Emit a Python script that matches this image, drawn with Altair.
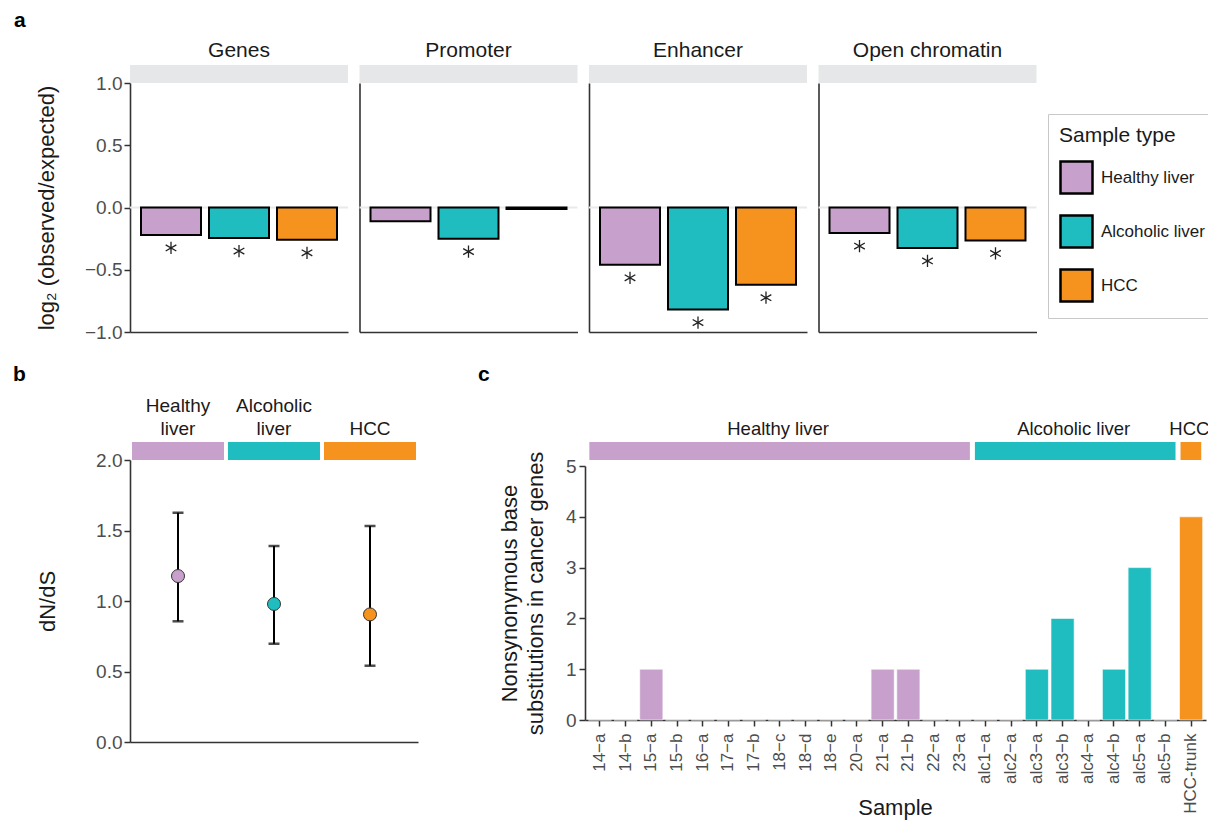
import altair as alt
import pandas as pd

FONT = "Liberation Sans"
AX = "#333333"
LAB = "#4d4d4d"
TXT = "#1a1a1a"

# ---------------- data ----------------
regions = ["Genes", "Promoter", "Enhancer", "Open chromatin"]
sample_types = ["Healthy liver", "Alcoholic liver", "HCC"]
type_colors = ["#C7A0CB", "#20BDC0", "#F6921E"]

genes_vals = [-0.22, -0.245, -0.26]
promoter_vals = [-0.11, -0.25, -0.012]
enhancer_vals = [-0.46, -0.82, -0.62]
open_vals = [-0.205, -0.325, -0.265]
genes_sig = [True, True, True]
promoter_sig = [False, True, False]
enhancer_sig = [True, True, True]
open_sig = [True, True, True]
region_vals = [genes_vals, promoter_vals, enhancer_vals, open_vals]
region_sig = [genes_sig, promoter_sig, enhancer_sig, open_sig]

dnds = [1.177, 0.979, 0.905]
dnds_low = [0.856, 0.697, 0.541]
dnds_high = [1.626, 1.390, 1.532]

samples = ["14−a", "14−b", "15−a", "15−b", "16−a", "17−a", "17−b", "18−c",
           "18−d", "18−e", "20−a", "21−a", "21−b", "22−a", "23−a",
           "alc1−a", "alc2−a", "alc3−a", "alc3−b", "alc4−a", "alc4−b",
           "alc5−a", "alc5−b", "HCC-trunk"]
sample_group = ["Healthy liver"] * 15 + ["Alcoholic liver"] * 8 + ["HCC"]
nonsyn = [0, 0, 1, 0, 0, 0, 0, 0, 0, 0, 0, 1, 1, 0, 0,
          0, 0, 1, 2, 0, 1, 3, 0,
          4]

STAR = "M0,-1L0,1M-0.87,-0.5L0.87,0.5M-0.87,0.5L0.87,-0.5"


def one(v):
    return pd.DataFrame({"t": [v]})


def color_enc(legend=None):
    return alt.Color("type:N", sort=sample_types,
                     scale=alt.Scale(domain=sample_types, range=type_colors),
                     legend=legend)


def letter(ch, x, y):
    return alt.Chart(one(ch)).mark_text(
        font=FONT, fontSize=21, fontWeight="bold", color="black",
        align="left", baseline="alphabetic").encode(
        text="t:N", x=alt.value(x), y=alt.value(y))


# ---------------- panel a ----------------
PW, PH = 218, 249
GAP = 11.5


def panel_a(i):
    df = pd.DataFrame({"type": sample_types, "value": region_vals[i],
                       "sig": region_sig[i]})
    x = alt.X("type:N", sort=sample_types,
              scale=alt.Scale(paddingInner=0, paddingOuter=0.103),
              axis=alt.Axis(labels=False, ticks=False, title=None, grid=False,
                            domainColor=AX, domainWidth=1.6))
    if i == 0:
        yaxis = alt.Axis(values=[-1, -0.5, 0, 0.5, 1], format=".1f", grid=False,
                         title="log₂ (observed/expected)",
                         labelFont=FONT, labelFontSize=19, labelColor=LAB,
                         labelPadding=2, tickSize=6, tickWidth=1.5, tickColor=AX,
                         domainColor=AX, domainWidth=1.6,
                         titleFont=FONT, titleFontSize=22, titleColor=TXT,
                         titleFontWeight="normal", titleAngle=270,
                         titleAlign="center", titleBaseline="middle",
                         titleX=-84, titleY=PH / 2)
    else:
        yaxis = alt.Axis(values=[-1, -0.5, 0, 0.5, 1], labels=False, ticks=False,
                         title=None, grid=False, domainColor=AX, domainWidth=1.6)
    y = alt.Y("value:Q", scale=alt.Scale(domain=[-1, 1], nice=False, zero=False),
              axis=yaxis)
    legend = None
    if i == 3:
        legend = alt.Legend(
            title="Sample type", orient="none", legendX=229.5, legendY=31,
            direction="vertical", symbolType="square", symbolSize=1024,
            symbolStrokeColor="black", symbolStrokeWidth=2.5, symbolOpacity=1,
            labelFont=FONT, labelFontSize=17, labelColor=TXT, labelOffset=7,
            titleFont=FONT, titleFontSize=21, titleFontWeight="normal",
            titleColor=TXT, titlePadding=14, rowPadding=11, padding=11,
            strokeColor="#c8c8c8", fillColor="white")

    strip = alt.Chart(one("s")).mark_rect(color="#E6E7E8").encode(
        x=alt.value(0), x2=alt.value(PW), y=alt.value(-18), y2=alt.value(0))
    title = alt.Chart(one(regions[i])).mark_text(
        font=FONT, fontSize=21, color=TXT, align="center",
        baseline="alphabetic").encode(text="t:N", x=alt.value(PW / 2),
                                      y=alt.value(-26))
    zero = alt.Chart(one(0)).mark_rule(color="#e9e9e9", strokeWidth=2).encode(
        y=alt.datum(0))
    bars = alt.Chart(df).mark_bar(size=60, stroke="black", strokeWidth=2).encode(
        x=x, y=y, y2=alt.datum(0), color=color_enc(legend))
    stars = alt.Chart(df).transform_filter("datum.sig").mark_point(
        shape=STAR, size=150, filled=False, color="#222222", strokeWidth=1.3,
        yOffset=13, opacity=1).encode(x=x, y=y)
    layers = [strip, zero, bars, stars, title]
    if i == 0:
        layers.append(letter("a", -116, -56))
    return alt.layer(*layers).properties(width=PW, height=PH)


# ---------------- panel b ----------------
BR, BH = 288, 282
bdf = pd.DataFrame({"type": sample_types, "dnds": dnds, "low": dnds_low,
                    "high": dnds_high})
xb = alt.X("type:N", sort=sample_types,
           scale=alt.Scale(paddingInner=0, paddingOuter=0, range=[0, BR]),
           axis=alt.Axis(labels=False, ticks=False, title=None, grid=False,
                         domainColor=AX, domainWidth=1.6))
b_axis = alt.Axis(values=[0, 0.5, 1, 1.5, 2], format=".1f", grid=False,
                  title="dN/dS", labelFont=FONT, labelFontSize=19,
                  labelColor=LAB, labelPadding=2, tickSize=6, tickWidth=1.5,
                  tickColor=AX, domainColor=AX, domainWidth=1.6,
                  titleFont=FONT, titleFontSize=22, titleColor=TXT,
                  titleFontWeight="normal", titleAngle=270, titleAlign="center",
                  titleBaseline="middle", titleX=-83, titleY=BH / 2)
b_scale = alt.Scale(domain=[0, 2], nice=False)

b_strips = alt.Chart(bdf).mark_bar(size=92).encode(
    x=xb, y=alt.value(-18), y2=alt.value(0), color=color_enc())
lbl_base = alt.Chart(bdf).transform_calculate(
    line1="indexof(datum.type, ' ') > 0 ? substring(datum.type, 0, indexof(datum.type, ' ')) : ''",
    line2="indexof(datum.type, ' ') > 0 ? substring(datum.type, indexof(datum.type, ' ') + 1) : datum.type",
)
b_lab1 = lbl_base.mark_text(font=FONT, fontSize=19, color=TXT, align="center",
                            baseline="alphabetic").encode(
    x=xb, y=alt.value(-48), text="line1:N")
b_lab2 = lbl_base.mark_text(font=FONT, fontSize=19, color=TXT, align="center",
                            baseline="alphabetic").encode(
    x=xb, y=alt.value(-25), text="line2:N")
b_rule = alt.Chart(bdf).mark_rule(color="black", strokeWidth=2).encode(
    x=xb, y=alt.Y("low:Q", scale=b_scale, axis=b_axis), y2="high:Q")
b_cap_lo = alt.Chart(bdf).mark_tick(orient="horizontal", size=11, thickness=2.5,
                                    color="black").encode(
    x=xb, y=alt.Y("low:Q", scale=b_scale, axis=b_axis))
b_cap_hi = alt.Chart(bdf).mark_tick(orient="horizontal", size=11, thickness=2.5,
                                    color="black").encode(
    x=xb, y=alt.Y("high:Q", scale=b_scale, axis=b_axis))
b_pts = alt.Chart(bdf).mark_point(filled=True, size=169, stroke="#333333",
                                  strokeWidth=1, opacity=1).encode(
    x=xb, y=alt.Y("dnds:Q", scale=b_scale, axis=b_axis), color=color_enc())
panel_b = alt.layer(b_strips, b_lab1, b_lab2, b_rule, b_cap_lo, b_cap_hi, b_pts,
                    letter("b", -117, -79)).properties(width=PW, height=BH)

# ---------------- panel c ----------------
C0, C1, CH = -4, 617, 260
CW = C1 - C0
n_s = len(samples)
P_IN, P_OUT = 0.1, 0.13
step = CW / (n_s - P_IN + 2 * P_OUT)
q_domain = [-P_OUT, (CW - step * P_OUT) / step]

cdf = pd.DataFrame({"sample": samples, "type": sample_group, "n": nonsyn})
g_start, g_end = [], []
pos = 0
for g in sample_types:
    g_start.append(pos)
    pos += sample_group.count(g)
    g_end.append(pos)
sdf = pd.DataFrame({"type": sample_types, "start": g_start, "end": g_end,
                    "mid": [(a + b) / 2 for a, b in zip(g_start, g_end)]})

xc = alt.X("sample:N", sort=samples,
           scale=alt.Scale(paddingInner=P_IN, paddingOuter=P_OUT, range=[C0, C1]),
           axis=alt.Axis(title="Sample", labelAngle=270, grid=False,
                         labelFont=FONT, labelFontSize=17, labelColor=LAB,
                         labelPadding=7, tickSize=6, tickWidth=1.5, tickColor=AX,
                         domainColor=AX, domainWidth=1.6,
                         titleFont=FONT, titleFontSize=22, titleColor=TXT,
                         titleFontWeight="normal", titleAlign="center",
                         titleBaseline="alphabetic", titleX=306, titleY=94))
yc = alt.Y("n:Q", scale=alt.Scale(domain=[0, 5], range=[CH, 6], nice=False),
           axis=alt.Axis(values=[0, 1, 2, 3, 4, 5], format="d", grid=False,
                         offset=-C0,
                         title=["Nonsynonymous base", "substitutions in cancer genes"],
                         labelFont=FONT, labelFontSize=19, labelColor=LAB,
                         labelPadding=3, tickSize=6, tickWidth=1.5, tickColor=AX,
                         domainColor=AX, domainWidth=1.6,
                         titleFont=FONT, titleFontSize=22, titleColor=TXT,
                         titleFontWeight="normal", titleAngle=270,
                         titleAlign="center", titleBaseline="middle",
                         titleLineHeight=26, titleX=-76, titleY=(CH + 6) / 2))
q_scale = alt.Scale(domain=q_domain, range=[C0, C1], nice=False, zero=False)

c_strips = alt.Chart(sdf).mark_rect(xOffset=1, x2Offset=-4).encode(
    x=alt.X("start:Q", scale=q_scale, axis=None), x2="end:Q",
    y=alt.value(-18), y2=alt.value(0), color=color_enc())
c_labels = alt.Chart(sdf).mark_text(
    font=FONT, fontSize=18.5, color=TXT, align="center", baseline="alphabetic",
    dx=-3).encode(
    x=alt.X("mid:Q", scale=q_scale, axis=None), y=alt.value(-25), text="type:N")
c_bars = alt.Chart(cdf).mark_bar(stroke="white", strokeWidth=0.6).encode(
    x=xc, y=yc, color=color_enc())
panel_c = alt.layer(c_strips, c_labels, c_bars, letter("c", -111, -79)).resolve_scale(
    x="independent").properties(width=PW, height=CH)

spacer = alt.Chart(one(0)).mark_point(opacity=0).encode(
    x=alt.value(0), y=alt.value(0)).properties(width=10, height=10)

# page: 1216x830 with 8px body margin -> drawing area 1200x814
LEFT, TOP = 130 - 8, 83 - 8
chart = alt.concat(
    panel_a(0), panel_a(1), panel_a(2), panel_a(3),
    panel_b, spacer, panel_c,
    columns=4, spacing={"row": 128, "column": GAP}, bounds="flush",
).resolve_scale(color="independent").properties(
    autosize=alt.AutoSizeParams(type="none"),
    padding={"left": LEFT, "top": TOP, "right": 1200 - LEFT, "bottom": 814 - TOP},
    background="white",
).configure_view(stroke=None)

chart.save("out.html", embed_options={"renderer": "svg", "actions": False})
